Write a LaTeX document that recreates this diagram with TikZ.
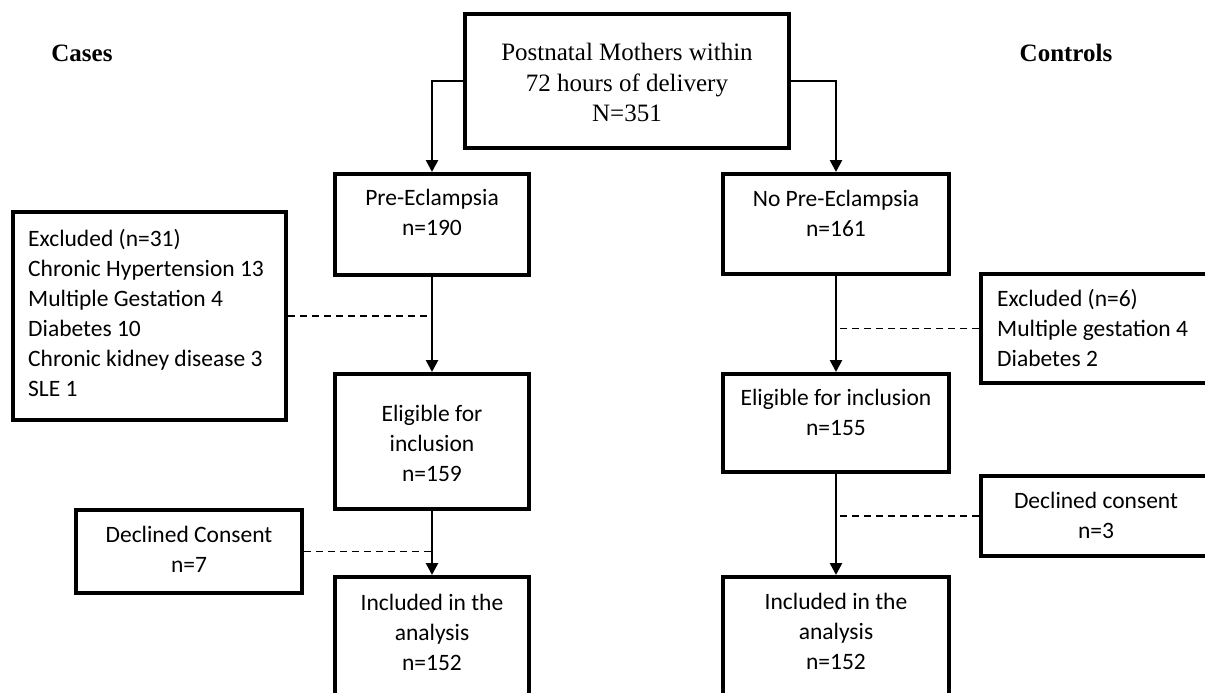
\documentclass[tikz,border=0pt]{standalone}
\usepackage{fontspec}
\setmainfont{Carlito}
\newfontfamily\seriffont{Liberation Serif}
\usetikzlibrary{arrows.meta}
\begin{document}
\begin{tikzpicture}[x=1pt,y=-1pt,
  box/.style={draw, line width=4pt, rectangle, inner sep=0pt},
  txt/.style={font=\fontsize{23.5}{30}\selectfont, align=center, inner sep=0pt},
  ltxt/.style={font=\fontsize{23.5}{30}\selectfont, align=left, inner sep=0pt, anchor=west},
  toptxt/.style={font=\seriffont\fontsize{25}{30.5}\selectfont, align=center, inner sep=0pt},
  head/.style={font=\seriffont\bfseries\fontsize{25}{30}\selectfont, inner sep=0pt},
  arr/.style={line width=2.6pt, -{Triangle[width=12pt,length=12pt]}},
  dashline/.style={line width=1.4pt, dash pattern=on 7pt off 5pt}]
\useasboundingbox (0,0) rectangle (1205,693);
\fill[white] (0,0) rectangle (1205,693);
\clip (0,0) rectangle (1205,693);

% boxes
\node[box, minimum width=324pt, minimum height=134pt] (top) at (627,81) {};
\node[box, minimum width=194pt, minimum height=101pt] (pre) at (432,224.5) {};
\node[box, minimum width=226pt, minimum height=100pt] (nopre) at (836,224) {};
\node[box, minimum width=273.5pt, minimum height=208pt] (exclL) at (149.25,316) {};
\node[box, minimum width=194pt, minimum height=135pt] (eligL) at (432,441.5) {};
\node[box, minimum width=226pt, minimum height=98pt] (eligR) at (836,423) {};
\node[box, minimum width=235pt, minimum height=109pt] (exclR) at (1098.5,328.5) {};
\node[box, minimum width=235pt, minimum height=80pt] (declR) at (1098.5,516) {};
\node[box, minimum width=226pt, minimum height=83pt] (declL) at (189,551.5) {};
\node[box, minimum width=194pt, minimum height=143pt] (inclL) at (432,648.5) {};
\node[box, minimum width=226pt, minimum height=143pt] (inclR) at (836,648.5) {};

% texts
\node[head] (cases) at (82,53) {Cases};
\node[head] (controls) at (1066,53) {Controls};
\node[toptxt] (topT) at (627,82.5) {Postnatal Mothers within\\72 hours of delivery\\N=351};
\node[txt] (preT) at (432,212.5) {Pre-Eclampsia\\n=190};
\node[txt] (nopreT) at (836,213) {No Pre-Eclampsia\\n=161};
\node[ltxt] (exclLT) at (28,313) {Excluded (n=31)\\Chronic Hypertension 13\\Multiple Gestation 4\\Diabetes 10\\Chronic kidney disease 3\\SLE 1};
\node[txt] (eligLT) at (432,443) {Eligible for\\inclusion\\n=159};
\node[txt] (eligRT) at (836,412) {Eligible for inclusion\\n=155};
\node[ltxt] (exclRT) at (997,328) {Excluded (n=6)\\Multiple gestation 4\\Diabetes 2};
\node[txt] (declRT) at (1096,515) {Declined consent\\n=3};
\node[txt] (declLT) at (189,549.5) {Declined Consent\\n=7};
\node[txt] (inclLT) at (432,632) {Included in the\\analysis\\n=152};
\node[txt] (inclRT) at (836,631) {Included in the\\analysis\\n=152};

% connectors
\draw[arr] (top.west) -| (pre.north);
\draw[arr] (top.east) -| (nopre.north);
\draw[arr] (pre.south) -- (eligL.north);
\draw[arr] (eligL.south) -- (inclL.north);
\draw[arr] (nopre.south) -- (eligR.north);
\draw[arr] (eligR.south) -- (inclR.north);
\draw[dashline] (exclL.east) -- (exclL.east -| pre.south);
\draw[dashline] (declL.east) -- (declL.east -| eligL.south);
\draw[dashline] (exclR.west) -- (exclR.west -| nopre.south);
\draw[dashline] (declR.west) -- (declR.west -| eligR.south);
\end{tikzpicture}
\end{document}
